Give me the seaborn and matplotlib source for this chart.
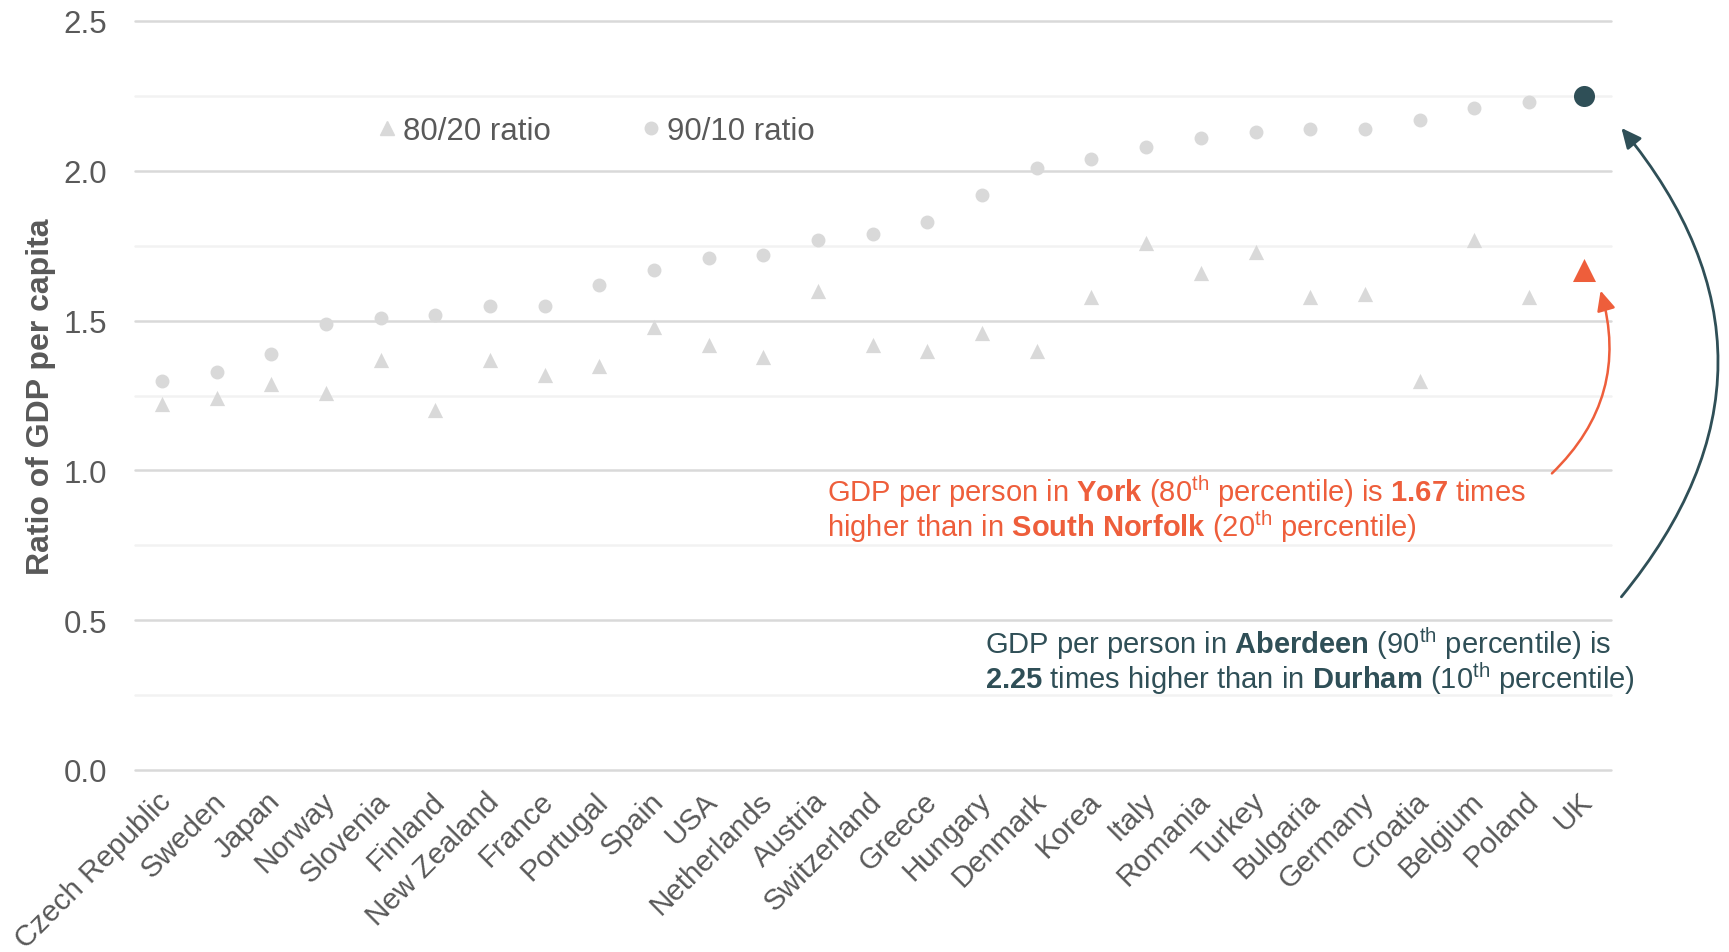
import numpy as np
import pandas as pd
import matplotlib
matplotlib.use("Agg")
import matplotlib.pyplot as plt
import matplotlib.transforms as mtransforms
from matplotlib.lines import Line2D
import seaborn as sns

countries = ["Czech Republic", "Sweden", "Japan", "Norway", "Slovenia", "Finland",
             "New Zealand", "France", "Portugal", "Spain", "USA", "Netherlands",
             "Austria", "Switzerland", "Greece", "Hungary", "Denmark", "Korea",
             "Italy", "Romania", "Turkey", "Bulgaria", "Germany", "Croatia",
             "Belgium", "Poland", "UK"]
ratio_90_10 = [1.30, 1.33, 1.39, 1.49, 1.51, 1.52, 1.55, 1.55, 1.62, 1.67, 1.71, 1.72,
               1.77, 1.79, 1.83, 1.92, 2.01, 2.04, 2.08, 2.11, 2.13, 2.14, 2.14, 2.17,
               2.21, 2.23, 2.25]
ratio_80_20 = [1.22, 1.24, 1.29, 1.26, 1.37, 1.20, 1.37, 1.32, 1.35, 1.48, 1.42, 1.38,
               1.60, 1.42, 1.40, 1.46, 1.40, 1.58, 1.76, 1.66, 1.73, 1.58, 1.59, 1.30,
               1.77, 1.58, 1.67]
yticks = [0.0, 0.5, 1.0, 1.5, 2.0, 2.5]

GREY = "#D9D9D9"
TXT = "#595959"
ORANGE = "#EE5E3B"
DARK = "#2F4F57"
FONT = "Liberation Sans"

sns.set_theme(style="white")
plt.rcParams["font.family"] = [FONT, "DejaVu Sans"]
plt.rcParams["mathtext.fontset"] = "custom"
plt.rcParams["mathtext.rm"] = FONT
plt.rcParams["mathtext.bf"] = FONT + ":bold"
plt.rcParams["mathtext.it"] = FONT + ":italic"

df = pd.DataFrame({"country": countries, "r9010": ratio_90_10, "r8020": ratio_80_20})
df["pos"] = np.arange(len(df))

fig = plt.figure(figsize=(17.29, 9.53), dpi=100)
L, R, T, B = 134.5, 1611, 22, 771
ax = fig.add_axes([L / 1729, (953 - B) / 953, (R - L) / 1729, (B - T) / 953])

others = df[df.country != "UK"]
uk = df[df.country == "UK"]
sns.scatterplot(data=others, x="pos", y="r9010", marker="o", s=100, color=GREY,
                linewidth=0, ax=ax, zorder=3, legend=False)
sns.scatterplot(data=others, x="pos", y="r8020", marker="^", s=120, color=GREY,
                linewidth=0, ax=ax, zorder=3, legend=False)
sns.scatterplot(data=uk, x="pos", y="r9010", marker="o", s=230, color=DARK,
                linewidth=0, ax=ax, zorder=4, legend=False)
sns.scatterplot(data=uk, x="pos", y="r8020", marker="^", s=275, color=ORANGE,
                linewidth=0, ax=ax, zorder=4, legend=False)

ax.set_xlim(-0.5, len(df) - 0.5)
ax.set_ylim(0, 2.5)
ax.set_yticks(yticks)
ax.set_yticklabels([f"{v:.1f}" for v in yticks])
ax.set_yticks(np.arange(0.25, 2.5, 0.5), minor=True)
ax.set_xticks(df["pos"])
ax.set_xticklabels(df["country"])
for s in ax.spines.values():
    s.set_visible(False)
ax.grid(axis="y", which="major", color="#D9D9D9", linewidth=1.8)
ax.grid(axis="y", which="minor", color="#F2F2F2", linewidth=1.8)
ax.grid(axis="x", visible=False)
for t in ax.yaxis.get_major_ticks() + ax.yaxis.get_minor_ticks():
    t.gridline.set_clip_on(False)
ax.set_axisbelow(True)
ax.tick_params(axis="y", which="both", length=0, pad=19.5, labelsize=22.5, labelcolor=TXT)
ax.tick_params(axis="x", which="both", length=0, pad=12, labelsize=21.3, labelcolor=TXT)
offset = mtransforms.ScaledTranslation(-5 / 100, 0, fig.dpi_scale_trans)
for lab in ax.get_xticklabels():
    lab.set_rotation(45)
    lab.set_ha("right")
    lab.set_va("top")
    lab.set_rotation_mode("anchor")
    lab.set_transform(lab.get_transform() + offset)

ax.set_xlabel("")
ax.set_ylabel("Ratio of GDP per capita", fontsize=23, fontweight="bold", color=TXT)
ax.yaxis.set_label_coords(-0.053, 0.5)

handles = [Line2D([], [], marker="^", linestyle="none", color=GREY, markersize=10),
           Line2D([], [], marker="o", linestyle="none", color=GREY, markersize=9)]
ax.legend(handles, ["80/20 ratio", "90/10 ratio"], ncol=2, frameon=False,
          loc="center left", bbox_to_anchor=((387 - 8) / 1729, (953 - 132) / 953),
          bbox_transform=fig.transFigure, fontsize=22.5, labelcolor=TXT,
          handlelength=0.5, handletextpad=0.27, columnspacing=2.95,
          borderpad=0, borderaxespad=0)

def ftext(x, y, s, color):
    fig.text(x / 1729, (953 - y) / 953, s, color=color, fontsize=21,
             ha="left", va="baseline")

ftext(827, 502, r"GDP per person in $\mathbf{York}$ ($\mathrm{80}^{\mathrm{th}}$ percentile) is $\mathbf{1.67}$ times", ORANGE)
ftext(827, 537, r"higher than in $\mathbf{South\ Norfolk}$ ($\mathrm{20}^{\mathrm{th}}$ percentile)", ORANGE)
ftext(985, 654, r"GDP per person in $\mathbf{Aberdeen}$ ($\mathrm{90}^{\mathrm{th}}$ percentile) is", DARK)
ftext(985, 689, r"$\mathbf{2.25}$ times higher than in $\mathbf{Durham}$ ($\mathrm{10}^{\mathrm{th}}$ percentile)", DARK)

ukx = float(uk["pos"].iloc[0])
uk80 = float(uk["r8020"].iloc[0])
uk90 = float(uk["r9010"].iloc[0])
ax.annotate("", xy=(ukx + 0.31, uk80 - 0.07), xytext=(ukx - 0.58, 0.99),
            arrowprops=dict(arrowstyle="-|>,head_length=0.6,head_width=0.28",
                            mutation_scale=20, color=ORANGE, lw=1.8,
                            connectionstyle="arc3,rad=0.3", shrinkA=0, shrinkB=0),
            annotation_clip=False)
ax.annotate("", xy=(ukx + 0.69, uk90 - 0.107), xytext=(ukx + 0.69, 0.578),
            arrowprops=dict(arrowstyle="-|>,head_length=0.6,head_width=0.28",
                            mutation_scale=20, color=DARK, lw=2,
                            connectionstyle="arc3,rad=0.41", shrinkA=0, shrinkB=0),
            annotation_clip=False)

fig.savefig("out.png", dpi=100)
